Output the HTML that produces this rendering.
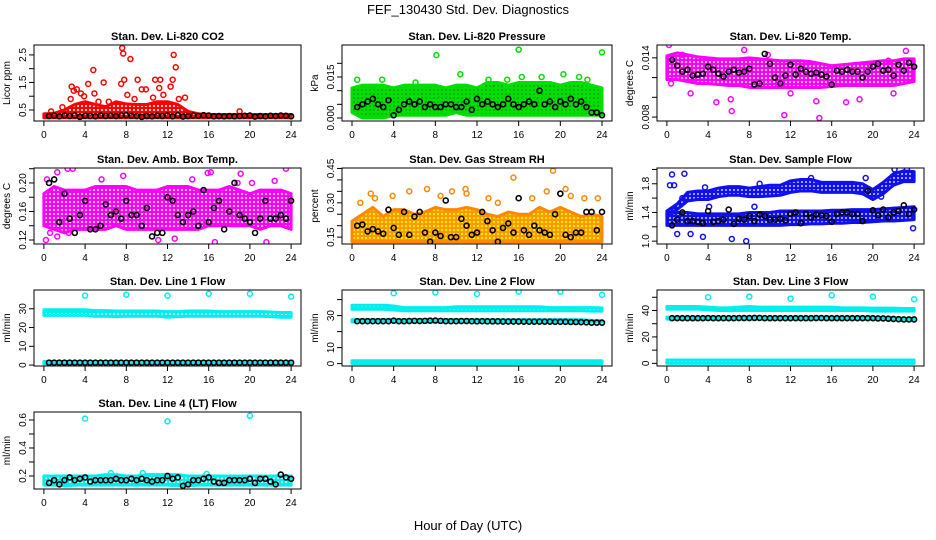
<!DOCTYPE html>
<html><head><meta charset="utf-8">
<style>
html,body{margin:0;padding:0;background:#fff;}
svg{display:block;font-family:"Liberation Sans",Arial,sans-serif;}
</style></head>
<body>
<svg id="chart" width="936" height="540" viewBox="0 0 936 540">
<defs>
<pattern id="pat-red" width="4" height="4" patternUnits="userSpaceOnUse"><rect width="4" height="4" fill="#ff0000"/><rect x="1" y="1" width="2" height="2" fill="#ffc8c8"/></pattern>
<pattern id="pat-green" width="4" height="4" patternUnits="userSpaceOnUse"><rect width="4" height="4" fill="#00dd00"/><rect x="1.5" y="1.5" width="1" height="1" fill="#004400"/></pattern>
<pattern id="pat-magenta" width="4" height="4" patternUnits="userSpaceOnUse"><rect width="4" height="4" fill="#ff00ff"/><rect x="1" y="1" width="2" height="2" fill="#ffc8ff"/></pattern>
<pattern id="pat-orange" width="4" height="4" patternUnits="userSpaceOnUse"><rect width="4" height="4" fill="#ff9900"/><rect x="1" y="1" width="2" height="2" fill="#ffee00"/></pattern>
<pattern id="pat-blue" width="4" height="4" patternUnits="userSpaceOnUse"><rect width="4" height="4" fill="#1010ee"/><rect x="1" y="1" width="2" height="2" fill="#a0a0ff"/></pattern>
<pattern id="pat-cyan" width="4" height="4" patternUnits="userSpaceOnUse"><rect width="4" height="4" fill="#00eeee"/><rect x="1" y="1" width="2" height="2" fill="#c0ffff"/></pattern>
</defs>
<text x="468" y="14" text-anchor="middle" font-size="13">FEF_130430  Std. Dev. Diagnostics</text>
<text x="468" y="530" text-anchor="middle" font-size="13">Hour of Day (UTC)</text>
<g id="panels"></g>
</svg>
<script>
// ---- shared
const hours = [0,1,2,3,4,5,6,7,8,9,10,11,12,13,14,15,16,17,18,19,20,21,22,23,24];
const xTicks = [0,4,8,12,16,20,24];

// ---- Panel 1: CO2
const co2BandLo = [0.22,0.22,0.22,0.22,0.22,0.22,0.22,0.22,0.22,0.22,0.22,0.22,0.22,0.22,0.22,0.22,0.22,0.22,0.22,0.22,0.22,0.22,0.22,0.22,0.22];
const co2BandHi = [0.36,0.38,0.5,0.7,0.8,0.7,0.62,0.8,0.72,0.7,0.7,0.8,0.8,0.7,0.45,0.36,0.34,0.33,0.33,0.34,0.33,0.33,0.33,0.33,0.33];
const co2OutX = [2.7,2.9,3.2,3.6,4.3,4.8,4.9,5.8,7.5,7.6,7.7,7.8,8.4,8.1,9.1,9.5,10.8,11.3,11.6,12.3,12.5,12.6,12.8,13.1,13.7,2.6,3.9,1.8,19,10.6,11.2,6.3,9.9,0.7,5.3,8.8];
const co2OutY = [1.35,1.2,1.25,1.1,1.45,1.95,1.1,1.5,1.45,2.75,2.55,1.6,2.35,1.05,1.6,1.25,1.6,1.6,1.05,1.35,1.6,2.5,2.05,0.9,0.95,0.9,1.0,0.6,0.45,0.95,1.3,0.8,1.25,0.45,0.8,0.9];
const co2Black = [0.28,0.3,0.27,0.3,0.28,0.3,0.25,0.29,0.28,0.27,0.3,0.28,0.29,0.28,0.3,0.31,0.29,0.28,0.25,0.28,0.27,0.29,0.28,0.3,0.27,0.31,0.26,0.28,0.3,0.29,0.31,0.3,0.27,0.28,0.27,0.28,0.27,0.28,0.29,0.3,0.26,0.28,0.27,0.29,0.28,0.3,0.29,0.27];

// ---- Panel 2: Pressure
const presBandLo = [0.002,0.0,0.0,0.0,0.001,0.001,0.001,0.001,0.001,0.001,0.002,0.001,0.001,0.001,0.001,0.001,0.001,0.001,0.001,0.001,0.001,0.001,0.001,0.001,0.001];
const presBandHi = [0.011,0.012,0.012,0.012,0.011,0.012,0.012,0.012,0.012,0.011,0.012,0.012,0.011,0.013,0.013,0.012,0.013,0.013,0.013,0.013,0.012,0.013,0.013,0.012,0.011];
const presOutX = [8.1,16,24,10.4,16.3,20.3,0.5,2.9,13.1,18.2,21.8,6.1,14.9,22.6];
const presOutY = [0.023,0.025,0.024,0.016,0.015,0.016,0.014,0.014,0.014,0.015,0.015,0.013,0.014,0.014];
const presBlack = [0.004,0.005,0.006,0.007,0.005,0.004,0.0065,0.001,0.003,0.005,0.006,0.005,0.006,0.004,0.005,0.004,0.004,0.005,0.005,0.004,0.004,0.006,0.003,0.007,0.005,0.006,0.005,0.004,0.005,0.007,0.005,0.004,0.005,0.006,0.005,0.01,0.005,0.006,0.004,0.006,0.005,0.007,0.005,0.006,0.004,0.002,0.002,0.001];

// ---- Panel 3: Li-820 Temp
const tempBandLo = [0.0118,0.0118,0.0116,0.0114,0.0114,0.0113,0.0112,0.0112,0.0110,0.0110,0.0110,0.0110,0.0110,0.0110,0.0110,0.0110,0.0111,0.0112,0.0112,0.0112,0.0112,0.0112,0.0112,0.0114,0.0116];
const tempBandHi = [0.0142,0.0145,0.0143,0.0141,0.0140,0.0139,0.0139,0.0139,0.0140,0.0139,0.0138,0.0137,0.0137,0.0137,0.0136,0.0134,0.0132,0.0133,0.0134,0.0135,0.0136,0.0137,0.0137,0.0139,0.0139];
const tempOutX = [0.2,7.5,23.2,9.8,11.4,14.8,6.3,4.8,17.4,12.0,0.4,2.3,21.5,18.7,6.2,1.5,14.5,22.0];
const tempOutY = [0.0153,0.0148,0.0147,0.0143,0.0082,0.0079,0.0086,0.0095,0.0095,0.0104,0.0114,0.0104,0.0137,0.0098,0.0098,0.0143,0.0096,0.0104];
const tempBlack = [0.0138,0.0132,0.0126,0.0128,0.0122,0.0123,0.0124,0.0131,0.0128,0.0124,0.0121,0.0126,0.0128,0.0125,0.0126,0.0129,0.0113,0.0114,0.0144,0.0134,0.0120,0.0114,0.0122,0.0133,0.0123,0.0129,0.0126,0.0124,0.0125,0.0123,0.0121,0.0113,0.0127,0.0126,0.0128,0.0126,0.0126,0.0120,0.0126,0.0131,0.0134,0.0127,0.0128,0.0122,0.0133,0.0127,0.0135,0.0131];

// ---- Panel 4: Amb Box Temp
const ambBandLo = [0.14,0.135,0.13,0.135,0.135,0.135,0.135,0.14,0.135,0.135,0.135,0.135,0.135,0.135,0.135,0.135,0.14,0.14,0.14,0.14,0.14,0.135,0.14,0.14,0.135];
const ambBandHi = [0.185,0.195,0.19,0.19,0.19,0.195,0.195,0.195,0.195,0.19,0.19,0.19,0.195,0.195,0.195,0.19,0.19,0.19,0.195,0.19,0.185,0.19,0.19,0.19,0.185];
const ambOutX = [0.3,0.2,1.3,2.3,2.8,7.7,19.1,23.5,15.9,16.2,21.6,16.6,11.1,2.4,12.7,0.6,1.3,18.8,5.6,14.4,20.2,22.4];
const ambOutY = [0.205,0.12,0.215,0.22,0.22,0.21,0.213,0.22,0.214,0.215,0.117,0.117,0.12,0.13,0.122,0.13,0.125,0.2,0.205,0.205,0.2,0.203];
const ambBlack = [0.20,0.205,0.145,0.185,0.15,0.13,0.155,0.175,0.135,0.135,0.14,0.17,0.155,0.16,0.15,0.175,0.155,0.155,0.14,0.165,0.125,0.13,0.13,0.18,0.175,0.155,0.145,0.155,0.16,0.14,0.19,0.145,0.165,0.175,0.135,0.16,0.2,0.155,0.15,0.145,0.13,0.15,0.175,0.15,0.15,0.155,0.15,0.175];

// ---- Panel 5: Gas Stream RH
const rhBandLo = [0.13,0.13,0.13,0.13,0.13,0.13,0.13,0.13,0.13,0.13,0.13,0.13,0.13,0.13,0.13,0.13,0.13,0.13,0.13,0.13,0.13,0.13,0.13,0.13,0.13];
const rhBandHi = [0.22,0.25,0.28,0.24,0.27,0.27,0.25,0.26,0.28,0.27,0.27,0.28,0.27,0.25,0.24,0.26,0.25,0.25,0.28,0.26,0.28,0.26,0.24,0.25,0.24];
const rhOutX = [15.5,19.3,20.5,7.2,10.9,9.6,5.5,18.7,1.8,3.9,13.1,17.3,21,22.3,23.6,0.8,2.2,8.5,11.0,14.0];
const rhOutY = [0.41,0.44,0.36,0.36,0.36,0.35,0.35,0.35,0.34,0.33,0.32,0.32,0.33,0.32,0.32,0.3,0.32,0.33,0.34,0.3];
const rhBlack = [0.2,0.205,0.175,0.185,0.175,0.165,0.27,0.19,0.16,0.26,0.16,0.24,0.26,0.17,0.13,0.17,0.155,0.31,0.15,0.15,0.23,0.2,0.16,0.17,0.26,0.22,0.18,0.13,0.19,0.21,0.17,0.32,0.18,0.16,0.2,0.18,0.17,0.16,0.25,0.34,0.16,0.15,0.17,0.17,0.26,0.26,0.18,0.26];

// ---- Panel 6: Sample Flow (two clusters)
const sfLowLo = [1.22,1.22,1.22,1.22,1.22,1.22,1.22,1.22,1.22,1.22,1.22,1.22,1.23,1.23,1.24,1.24,1.25,1.25,1.26,1.26,1.27,1.28,1.28,1.29,1.3];
const sfLowHi = [1.38,1.4,1.4,1.38,1.38,1.38,1.38,1.38,1.4,1.4,1.4,1.42,1.42,1.42,1.42,1.42,1.43,1.43,1.44,1.44,1.44,1.45,1.46,1.47,1.48];
const sfHighLo = [1.38,1.44,1.56,1.58,1.58,1.62,1.64,1.64,1.62,1.62,1.63,1.64,1.68,1.7,1.7,1.68,1.68,1.68,1.68,1.66,1.58,1.66,1.78,1.83,1.83];
const sfHighHi = [1.42,1.52,1.68,1.7,1.7,1.74,1.76,1.76,1.74,1.76,1.78,1.78,1.84,1.86,1.86,1.82,1.82,1.82,1.82,1.8,1.72,1.82,1.94,1.98,1.97];
const sfOutX = [0.5,1.7,0.3,0.7,23.3,22.1,3.5,6.3,7.7,1.0,2.3,23.9,1.5,9.0,19.3,4.1,3.7,8.5,14.0,20.8];
const sfOutY = [1.93,1.94,1.78,1.78,2.0,2.0,1.06,1.03,1.0,1.1,1.1,1.18,1.6,1.8,1.88,1.48,1.75,1.48,1.88,1.62];
const sfBlack = [1.22,1.3,1.4,1.28,1.28,1.27,1.25,1.42,1.27,1.28,1.3,1.44,1.24,1.31,1.3,1.35,1.28,1.37,1.35,1.3,1.3,1.31,1.29,1.38,1.4,1.25,1.38,1.33,1.37,1.36,1.35,1.27,1.38,1.4,1.4,1.38,1.38,1.28,1.7,1.43,1.36,1.44,1.33,1.4,1.42,1.5,1.38,1.44];

// ---- Panel 7: Line 1 Flow
const l1TopLo = [26.5,26.5,26.5,26.5,26.5,26,26,25.8,26,26,26,26,25.5,25.8,26,26,26,26,26,26,26,26,25.8,25.5,25.5];
const l1TopHi = [29.5,29.5,29.5,29.5,29.5,29,29,28.8,28.8,28.8,28.8,28.8,28.5,28.5,28.8,28.8,28.8,28.5,28.5,28.5,28.5,28.5,28.3,28,28];
const l1BotLo = [0.6,0.6,0.6,0.6,0.6,0.6,0.6,0.6,0.6,0.6,0.6,0.6,0.6,0.6,0.6,0.6,0.6,0.6,0.6,0.6,0.6,0.6,0.6,0.6,0.6];
const l1BotHi = [1.9,1.9,1.9,1.9,1.9,1.9,1.9,1.9,1.9,1.9,1.9,1.9,1.9,1.9,1.9,1.9,1.9,1.9,1.9,1.9,1.9,1.9,1.9,1.9,1.9];
const l1OutX = [4,8,12,16,20,24];
const l1OutY = [37,37.5,37,38,38,36.5];
const l1Black = [1.3,1.3,1.3,1.3,1.3,1.3,1.3,1.3,1.3,1.3,1.3,1.3,1.3,1.3,1.3,1.3,1.3,1.3,1.3,1.3,1.3,1.3,1.3,1.3,1.3,1.3,1.3,1.3,1.3,1.3,1.3,1.3,1.3,1.3,1.3,1.3,1.3,1.3,1.3,1.3,1.3,1.3,1.3,1.3,1.3,1.3,1.3,1.3];

// ---- Panel 8: Line 2 Flow
const l2TopLo = [34,34,34,34,33.5,33,33,33,33,33,33,33,33,33,33,33,33,33,33,33,33,33,33,32.8,32.8];
const l2TopHi = [36.5,36.5,36.5,36.5,36,35,35,35,35,35,35.5,35.5,35.5,35.5,35.5,35.5,35.5,35.5,35.5,35,35,35,35,35,34.8];
const l2MidLo = [26,26,26,26,26,26,26,26,26,26,26,26,26,26,26,26,26,26,26,26,26,26,26,26,26];
const l2MidHi = [27.5,27.5,27.5,27.5,27.5,27.5,27.5,27.5,27.5,27.5,27.5,27.5,27.5,27.5,27.5,27.5,27.5,27.5,27.5,27.5,27.5,27.5,27.5,27,27];
const l2BotLo = [0,0,0,0,0,0,0,0,0,0,0,0,0,0,0,0,0,0,0,0,0,0,0,0,0];
const l2BotHi = [1.8,1.8,1.8,1.8,1.8,1.8,1.8,1.8,1.8,1.8,1.8,1.8,1.8,1.8,1.8,1.8,1.8,1.8,1.8,1.8,1.8,1.8,1.8,1.8,1.8];
const l2OutX = [4,8,12,16,20,24];
const l2OutY = [44,44.5,43.5,45,45,43];
const l2Black = [26.5,26.5,26.5,26.5,26.5,26.5,26.5,26.8,26.5,26.5,26.6,26.7,26.6,26.7,26.8,26.9,26.7,26.5,26.5,26.5,26.6,26.6,26.5,26.4,26.5,26.4,26.4,26.4,26.3,26.3,26.3,26.3,26.2,26.2,26.2,26.2,26.2,26.2,26.1,26.1,26.1,26,26,25.9,25.8,25.6,25.6,25.6];

// ---- Panel 9: Line 3 Flow
const l3TopLo = [41,41,41,41,40.5,40,40,40,40,40,40,40,40,40,40,40,40,40,40,40,39.5,39.5,39.5,39.5,39.5];
const l3TopHi = [43,43,43,43,42.5,42,42,42.5,43,42.5,42.5,42.5,42.5,42.5,42.5,42.5,42.5,42,42,42,41.8,41.8,41.8,41.5,41.5];
const l3MidLo = [33.5,33.5,33.5,33.5,33.5,33.5,33.5,33.5,33.5,33.5,33.5,33.5,33.5,33.5,33.5,33.5,33.5,33.5,33.5,33.5,33.5,33.5,33,32.5,32.5];
const l3MidHi = [35,35,35,35,35,35,35,35,35,35,35,35,35,35,35,35,35,35,35,35,35,35,34.5,34,34];
const l3BotLo = [0,0,0,0,0,0,0,0,0,0,0,0,0,0,0,0,0,0,0,0,0,0,0,0,0];
const l3BotHi = [2.5,2.5,2.5,2.5,2.5,2.5,2.5,2.5,2.5,2.5,2.5,2.5,2.5,2.5,2.5,2.5,2.5,2.5,2.5,2.5,2.5,2.5,2.5,2.5,2.5];
const l3OutX = [4,8,12,16,20,24];
const l3OutY = [50,50.5,49,51.5,50.5,48.5];
const l3Black = [34.2,34.2,34.2,34.2,34.2,34.2,34.2,34.3,34.2,34.2,34.2,34.2,34.2,34.3,34.3,34.3,34.4,34.4,34.2,34.2,34.2,34.2,34.2,34.2,34.2,34.2,34.2,34.2,34.3,34.3,34.2,34.2,34.2,34.2,34.2,34.2,34.2,34.2,34.2,34.2,34,34,33.8,33.6,33.4,33.2,33.2,33.2];

// ---- Panel 10: Line 4 (LT) Flow
const l4BandLo = [0.135,0.135,0.13,0.135,0.135,0.135,0.135,0.135,0.135,0.135,0.135,0.135,0.135,0.13,0.13,0.135,0.135,0.135,0.135,0.135,0.135,0.135,0.135,0.135,0.135];
const l4BandHi = [0.2,0.2,0.2,0.2,0.2,0.2,0.21,0.21,0.2,0.2,0.21,0.21,0.21,0.21,0.2,0.2,0.2,0.2,0.2,0.2,0.2,0.2,0.2,0.2,0.2];
const l4OutX = [4,12,20,6.5,9.6,15.8];
const l4OutY = [0.61,0.59,0.63,0.22,0.22,0.215];
const l4Black = [0.15,0.17,0.14,0.17,0.19,0.17,0.18,0.19,0.16,0.17,0.17,0.17,0.17,0.18,0.17,0.17,0.18,0.17,0.18,0.17,0.16,0.17,0.17,0.2,0.18,0.19,0.13,0.14,0.17,0.17,0.18,0.19,0.16,0.15,0.15,0.17,0.17,0.17,0.17,0.18,0.15,0.18,0.18,0.16,0.14,0.21,0.19,0.18];

// ---- y-axis tick arrays
const co2Ticks=[0.5,1.0,1.5,2.0,2.5], co2Labels=["0.5","","1.5","","2.5"];
const presTicks=[0,0.005,0.01,0.015,0.02], presLabels=["0.000","","","0.015",""];
const tempTicks=[0.008,0.010,0.012,0.014], tempLabels=["0.008","","","0.014"];
const ambTicks=[0.12,0.14,0.16,0.18,0.20,0.22], ambLabels=["0.12","","0.16","","0.20",""];
const rhTicks=[0.15,0.2,0.25,0.3,0.35,0.4,0.45], rhLabels=["0.15","","","0.30","","","0.45"];
const sfTicks=[1.0,1.2,1.4,1.6,1.8,2.0], sfLabels=["1.0","","1.4","","1.8",""];
const l1Ticks=[0,10,20,30], l1Labels=["0","10","20","30"];
const l2Ticks=[0,10,20,30,40], l2Labels=["0","10","","30",""];
const l3Ticks=[0,10,20,30,40,50], l3Labels=["0","","20","","40",""];
const l4Ticks=[0.2,0.3,0.4,0.5,0.6], l4Labels=["0.2","","0.4","","0.6"];

const NS="http://www.w3.org/2000/svg";
const root=document.getElementById('panels');
function mk(tag,attrs,parent){const e=document.createElementNS(NS,tag);for(const k in attrs)e.setAttribute(k,attrs[k]);(parent||root).appendChild(e);return e;}

const colX=[{l:34,r:301},{l:342,r:612},{l:657,r:924}];
const rowY=[{t:45,b:121},{t:168,b:244},{t:290,b:366},{t:412,b:489}];

const panels=[
 {name:'co2',title:'Stan. Dev. Li-820 CO2',ylab:'Licor ppm',c:0,r:0,ymin:0.1,ymax:2.86,ticks:co2Ticks,labels:co2Labels,col:'#ff0000',pat:'red',
  bands:[[co2BandLo,co2BandHi]],ox:co2OutX,oy:co2OutY,blk:co2Black},
 {name:'pressure',title:'Stan. Dev. Li-820 Pressure',ylab:'kPa',c:1,r:0,ymin:-0.0011,ymax:0.0267,ticks:presTicks,labels:presLabels,col:'#00dd00',pat:'green',
  bands:[[presBandLo,presBandHi]],ox:presOutX,oy:presOutY,blk:presBlack},
 {name:'li820-temp',title:'Stan. Dev. Li-820 Temp.',ylab:'degrees C',c:2,r:0,ymin:0.0076,ymax:0.0153,ticks:tempTicks,labels:tempLabels,col:'#ff00ff',pat:'magenta',
  bands:[[tempBandLo,tempBandHi]],ox:tempOutX,oy:tempOutY,blk:tempBlack},
 {name:'amb-box-temp',title:'Stan. Dev. Amb. Box Temp.',ylab:'degrees C',c:0,r:1,ymin:0.1144,ymax:0.221,ticks:ambTicks,labels:ambLabels,col:'#ff00ff',pat:'magenta',
  bands:[[ambBandLo,ambBandHi]],ox:ambOutX,oy:ambOutY,blk:ambBlack},
 {name:'gas-stream-rh',title:'Stan. Dev. Gas Stream RH',ylab:'percent',c:1,r:1,ymin:0.12,ymax:0.452,ticks:rhTicks,labels:rhLabels,col:'#ff8800',pat:'orange',
  bands:[[rhBandLo,rhBandHi]],ox:rhOutX,oy:rhOutY,blk:rhBlack},
 {name:'sample-flow',title:'Stan. Dev. Sample Flow',ylab:'ml/min',c:2,r:1,ymin:0.96,ymax:2.02,ticks:sfTicks,labels:sfLabels,col:'#1010ee',pat:'blue',
  bands:[[sfLowLo,sfLowHi],[sfHighLo,sfHighHi]],ox:sfOutX,oy:sfOutY,blk:sfBlack},
 {name:'line1-flow',title:'Stan. Dev. Line 1 Flow',ylab:'ml/min',c:0,r:2,ymin:-0.5,ymax:40,ticks:l1Ticks,labels:l1Labels,col:'#00eeee',pat:'cyan',
  bands:[[l1TopLo,l1TopHi],[l1BotLo,l1BotHi]],ox:l1OutX,oy:l1OutY,blk:l1Black},
 {name:'line2-flow',title:'Stan. Dev. Line 2 Flow',ylab:'ml/min',c:1,r:2,ymin:-1.5,ymax:46,ticks:l2Ticks,labels:l2Labels,col:'#00eeee',pat:'cyan',
  bands:[[l2TopLo,l2TopHi],[l2MidLo,l2MidHi],[l2BotLo,l2BotHi]],ox:l2OutX,oy:l2OutY,blk:l2Black},
 {name:'line3-flow',title:'Stan. Dev. Line 3 Flow',ylab:'ml/min',c:2,r:2,ymin:-2,ymax:55.5,ticks:l3Ticks,labels:l3Labels,col:'#00eeee',pat:'cyan',
  bands:[[l3TopLo,l3TopHi],[l3MidLo,l3MidHi],[l3BotLo,l3BotHi]],ox:l3OutX,oy:l3OutY,blk:l3Black},
 {name:'line4-flow',title:'Stan. Dev. Line 4 (LT) Flow',ylab:'ml/min',c:0,r:3,ymin:0.107,ymax:0.657,ticks:l4Ticks,labels:l4Labels,col:'#00eeee',pat:'cyan',
  bands:[[l4BandLo,l4BandHi]],ox:l4OutX,oy:l4OutY,blk:l4Black}
];

panels.forEach(p=>{
  const L=colX[p.c].l,R=colX[p.c].r,T=rowY[p.r].t,B=rowY[p.r].b;
  const pad=(R-L)/(24*1.08)*0.96;
  const sx=v=>L+pad+(v/24)*(R-L-2*pad);
  const sy=v=>B-(v-p.ymin)/(p.ymax-p.ymin)*(B-T);
  const g=mk('g',{});
  
  
  const clipId='clip-'+p.name;
  const cp=mk('clipPath',{id:clipId},g); mk('rect',{x:L,y:T,width:R-L,height:B-T},cp);
  const t=mk('text',{x:(L+R)/2,y:T-5,'text-anchor':'middle','font-size':'11','font-weight':'bold'},g);
  t.textContent=p.title;
  
  
  const yl=mk('text',{x:0,y:0,transform:`translate(${L-24},${(T+B)/2}) rotate(-90)`,'text-anchor':'middle','font-size':'10'},g);
  yl.textContent=p.ylab;
  
  
  const xa=mk('g',{},g);
  
  
  xTicks.forEach(v=>{
    mk('line',{x1:sx(v),x2:sx(v),y1:B,y2:B+5,stroke:'#000','stroke-width':1},xa);
    const lt=mk('text',{x:sx(v),y:B+17,'text-anchor':'middle','font-size':'10'},xa);
    lt.textContent=String(v);
  });
  const ya=mk('g',{},g);
  
  
  p.ticks.forEach((v,i)=>{
    mk('line',{x1:L-5,x2:L,y1:sy(v),y2:sy(v),stroke:'#000','stroke-width':1},ya);
    if(p.labels[i]){
      const lt=mk('text',{x:0,y:0,transform:`translate(${L-8},${sy(v)}) rotate(-90)`,'text-anchor':'middle','font-size':'10'},ya);
      lt.textContent=p.labels[i];
    }
  });
  const marks=mk('g',{'clip-path':`url(#${clipId})`},g);
  p.bands.forEach((bd,bi)=>{
    const lo=bd[0],hi=bd[1];
    let d='M'+hours.map((h,i)=>sx(h)+','+sy(hi[i])).join(' L');
    d+=' L'+hours.slice().reverse().map((h,k)=>{const i=hours.length-1-k;return sx(h)+','+sy(lo[i]);}).join(' L')+' Z';
    const pa=mk('path',{d:d,fill:`url(#pat-${p.pat})`,stroke:p.col,'stroke-width':3,'stroke-linejoin':'round'},marks);
    
    
  });
  p.ox.forEach((x,i)=>{
    const c=mk('circle',{cx:sx(x),cy:sy(p.oy[i]),r:2.5,fill:'none',stroke:p.col,'stroke-width':1.5},marks);
    
    
  });
  p.blk.forEach((v,i)=>{
    const c=mk('circle',{cx:sx(0.5+i*0.5),cy:sy(v),r:2.5,fill:'none',stroke:'#000','stroke-width':1.6},marks);
    
    
  });
  const box=mk('rect',{x:L,y:T,width:R-L,height:B-T,fill:'none',stroke:'#000','stroke-width':1},g);
  
  
});
</script>
</body></html>
